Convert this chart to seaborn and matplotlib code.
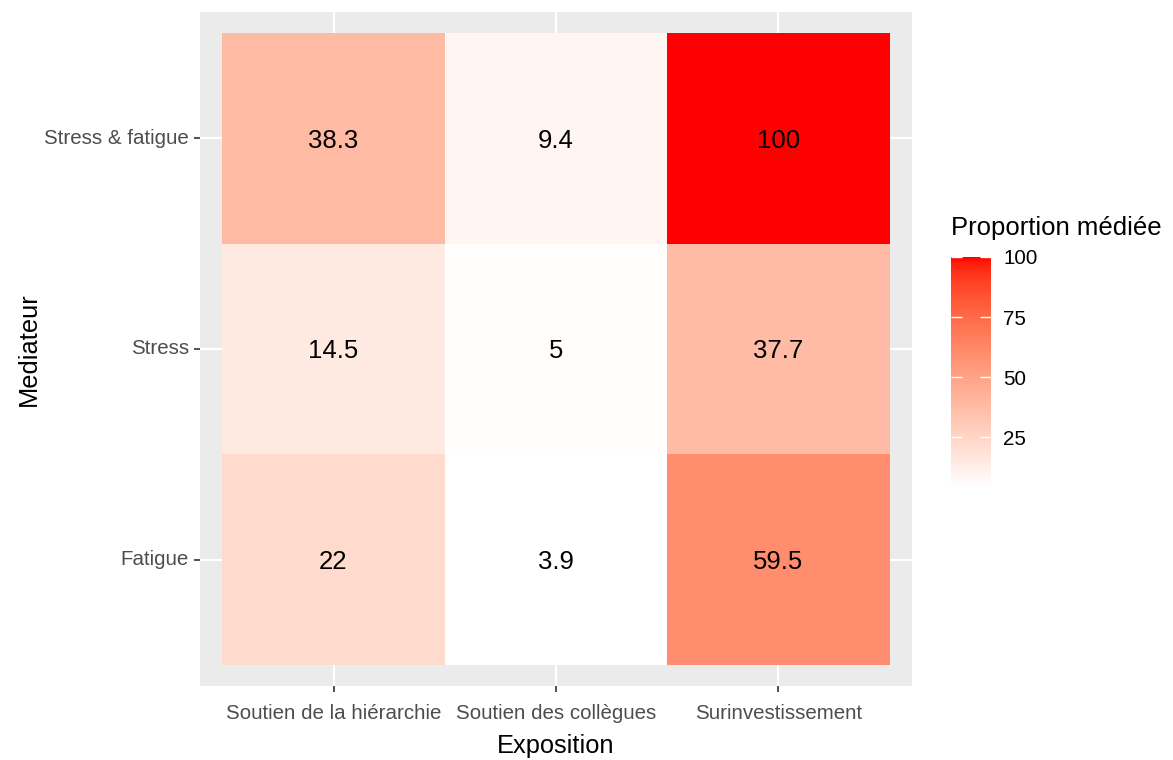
import numpy as np
import pandas as pd
import matplotlib
matplotlib.use("Agg")
import matplotlib.pyplot as plt
from matplotlib.colors import ListedColormap
import seaborn as sb

# Donnees
expositions = ["Soutien de la hiérarchie", "Soutien des collègues", "Surinvestissement"]
mediateurs = ["Stress & fatigue", "Stress", "Fatigue"]
hierarchie = [38.3, 14.5, 22]
collegues = [9.4, 5, 3.9]
surinvestissement = [100, 37.7, 59.5]

df = pd.DataFrame({expositions[0]: hierarchie,
                   expositions[1]: collegues,
                   expositions[2]: surinvestissement}, index=mediateurs)


# degrade blanc -> rouge interpole en CIELAB (comme scale_fill_gradient)
def rgb_to_lab(rgb):
    c = np.asarray(rgb, float)
    c = np.where(c <= 0.04045, c / 12.92, ((c + 0.055) / 1.055) ** 2.4)
    M = np.array([[0.4124, 0.3576, 0.1805],
                  [0.2126, 0.7152, 0.0722],
                  [0.0193, 0.1192, 0.9505]])
    xyz = M @ c / np.array([0.95047, 1.0, 1.08883])
    f = np.where(xyz > 0.008856, np.cbrt(xyz), 7.787 * xyz + 16 / 116)
    return np.array([116 * f[1] - 16, 500 * (f[0] - f[1]), 200 * (f[1] - f[2])])


def lab_to_rgb(lab):
    L, a, b = lab
    fy = (L + 16) / 116
    fx = fy + a / 500
    fz = fy - b / 200
    f = np.array([fx, fy, fz])
    xyz = np.where(f ** 3 > 0.008856, f ** 3, (f - 16 / 116) / 7.787)
    xyz = xyz * np.array([0.95047, 1.0, 1.08883])
    Minv = np.array([[3.2406, -1.5372, -0.4986],
                     [-0.9689, 1.8758, 0.0415],
                     [0.0557, -0.2040, 1.0570]])
    c = Minv @ xyz
    c = np.where(c <= 0.0031308, 12.92 * c, 1.055 * np.clip(c, 0, None) ** (1 / 2.4) - 0.055)
    return np.clip(c, 0, 1)


lab_lo = rgb_to_lab([1, 1, 1])
lab_hi = rgb_to_lab([1, 0, 0])
couleurs = [lab_to_rgb(lab_lo + t * (lab_hi - lab_lo)) for t in np.linspace(0, 1, 256)]
cmap = ListedColormap(couleurs)

plt.rcParams['font.family'] = ['Liberation Sans', 'DejaVu Sans']

W, H = 1173, 760
fig = plt.figure(figsize=(W / 100, H / 100), dpi=100)
ax = fig.add_axes([200 / W, 1 - 686 / H, 712 / W, 674 / H])
cax = fig.add_axes([951 / W, 1 - 488 / H, 40 / W, 231 / H])

vals = df.values
sb.heatmap(df, ax=ax, cmap=cmap, vmin=vals.min(), vmax=vals.max(),
           annot=True, fmt="g", cbar_ax=cax, linewidths=0,
           annot_kws={"color": "black", "fontsize": 18.5, "va": "center_baseline"})

ax.set_facecolor("#EBEBEB")
ax.set_xlim(-0.1, 3.1)
ax.set_ylim(3.1, -0.1)
ax.grid(True, color="white", linewidth=1.6)
ax.set_axisbelow(True)
for s in ax.spines.values():
    s.set_visible(False)

ax.set_xticklabels(expositions, rotation=0)
ax.set_yticklabels(mediateurs, rotation=0)
ax.tick_params(axis="both", length=4.5, width=1.2, color="#333333",
               labelcolor="#4D4D4D", labelsize=14.8)
ax.tick_params(axis="x", pad=8.5)
ax.tick_params(axis="y", pad=3.5)
ax.set_xlabel("Exposition", fontsize=18.3, labelpad=8)
ax.set_ylabel("Mediateur", fontsize=18.3, labelpad=2)

# legende (barre de couleur)
cbar = ax.collections[0].colorbar
cbar.outline.set_visible(False)
cbar.set_ticks([25, 50, 75, 100])
cax.tick_params(direction="in", color="white", length=8, width=1,
                left=True, right=True, labelleft=False, labelright=True,
                labelsize=14.8, labelcolor="black", pad=9)
fig.text(951 / W, 1 - 228 / H, "Proportion médiée", fontsize=18.5,
         ha="left", va="center")

fig.savefig("out.png", dpi=100)
